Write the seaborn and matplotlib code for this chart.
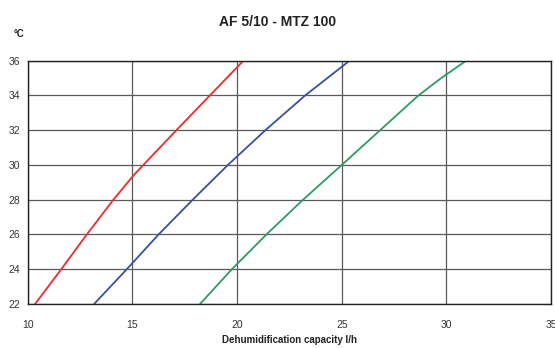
import matplotlib
matplotlib.use("Agg")
import matplotlib.pyplot as plt
import pandas as pd
import seaborn as sns

# temperature (°C) on the y axis, capacity (l/h) on the x axis
temp_red = [22, 24, 26, 28, 29.4, 30, 32, 34, 36]
capacity_red = [10.35, 11.6, 12.82, 14.09, 15.05, 15.52, 17.1, 18.7, 20.3]
temp_blue = [22, 24, 26, 28, 30, 32, 34, 36]
capacity_blue = [13.17, 14.73, 16.25, 17.88, 19.56, 21.35, 23.25, 25.37]
temp_green = [22, 24, 26, 28, 30, 32, 34, 35, 36]
capacity_green = [18.23, 19.75, 21.4, 23.15, 25.0, 26.83, 28.66, 29.75, 30.94]

series_names = ["red", "blue", "green"]
palette = {"red": "#f22a2a", "blue": "#3451a3", "green": "#2f9a62"}

x_ticks = [10, 15, 20, 25, 30, 35]
y_ticks = [22, 24, 26, 28, 30, 32, 34, 36]


def main():
    frames = []
    for name, t, cap in zip(series_names,
                            [temp_red, temp_blue, temp_green],
                            [capacity_red, capacity_blue, capacity_green]):
        frames.append(pd.DataFrame({"capacity": cap, "temp": t, "series": name}))
    df = pd.concat(frames, ignore_index=True)

    sns.set_style("white")
    plt.rcParams["font.family"] = ["Liberation Sans", "DejaVu Sans"]

    fig = plt.figure(figsize=(5.55, 3.49), dpi=100)
    ax = fig.add_axes([0.050, 0.129, 0.943, 0.697])

    sns.lineplot(data=df, x="capacity", y="temp", hue="series", palette=palette,
                 estimator=None, sort=False, linewidth=1.3, legend=False, ax=ax)

    ax.set_xlim(10, 35)
    ax.set_ylim(22, 36)
    ax.set_xticks(x_ticks)
    ax.set_yticks(y_ticks)
    ax.grid(True, color="#5a5a5a", linewidth=0.9)
    ax.set_axisbelow(True)
    for sp in ax.spines.values():
        sp.set_color("#222222")
        sp.set_linewidth(1.0)
    ax.tick_params(axis="x", direction="out", length=3.5, width=0.8, pad=8,
                   labelsize=7.5, colors="#333333")
    ax.tick_params(axis="y", direction="out", length=3.5, width=0.8, pad=2,
                   labelsize=7.5, colors="#333333")
    ax.set_xlabel("")
    ax.set_ylabel("")

    fig.text(0.5, 0.938, "AF 5/10 - MTZ 100", ha="center", va="center",
             fontsize=10, fontweight="bold", color="#222222")
    fig.text(0.035, 0.902, "°C", ha="center", va="center",
             fontsize=7, fontweight="bold", color="#222222")
    fig.text(0.521, 0.025, "Dehumidification capacity l/h", ha="center", va="center",
             fontsize=7, fontweight="bold", color="#222222")

    fig.savefig("out.png", dpi=100)


if __name__ == "__main__":
    main()
